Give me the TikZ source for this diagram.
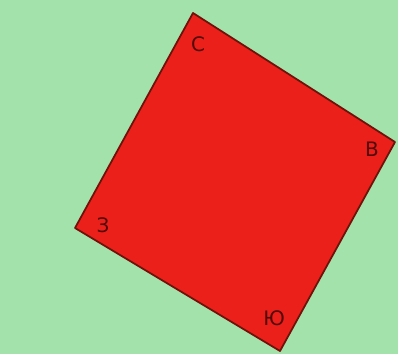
\documentclass[tikz,border=0pt]{standalone}
\usepackage{fontspec}
\setmainfont{DejaVu Sans}
\usepackage{xcolor}
\usetikzlibrary{positioning}
\definecolor{bggreen}{RGB}{164,226,172}
\definecolor{sqred}{RGB}{236,32,26}
\definecolor{sqedge}{RGB}{110,18,10}
\definecolor{lblink}{RGB}{80,8,8}

\begin{document}
\begin{tikzpicture}[x=0.03cm,y=-0.03cm,
  side/.style={lblink,font=\fontsize{17}{17}\selectfont,inner sep=0pt}]
  \fill[bggreen] (0,0) rectangle (398,354);
  \useasboundingbox (0,0) rectangle (398,354);
  \coordinate (n) at (193,13);
  \coordinate (e) at (395,142);
  \coordinate (s) at (280,351);
  \coordinate (w) at (75,228);
  \draw[sqedge,line width=1.5pt,fill=sqred,line join=round] (n) -- (e) -- (s) -- (w) -- cycle;
  \node[side] (ns) at (198,44) {С};
  \node[side] (es) at (372,149) {В};
  \node[side] (ss) at (274,318) {Ю};
  \node[side] (ws) at (103,225) {З};
\end{tikzpicture}
\end{document}
